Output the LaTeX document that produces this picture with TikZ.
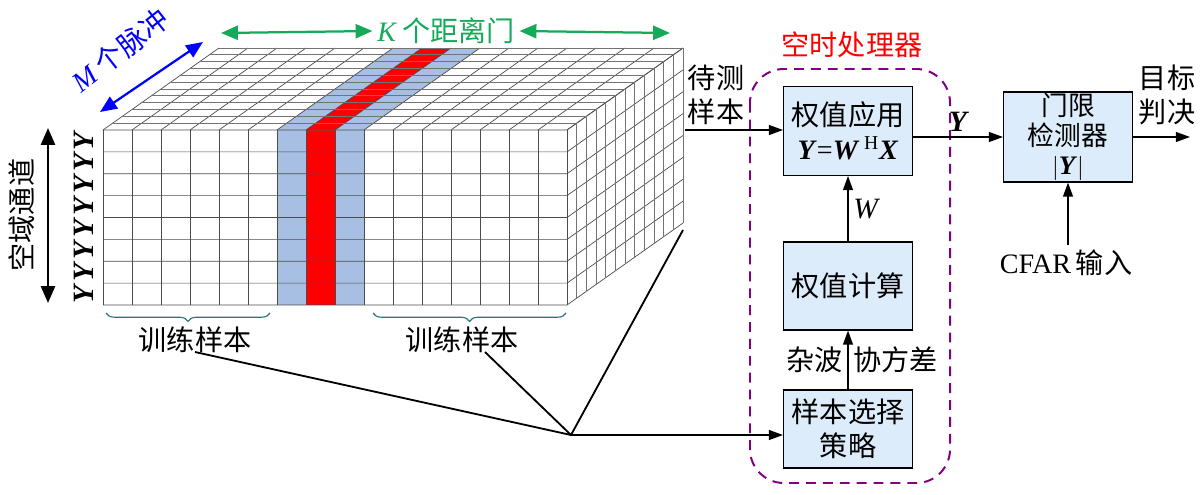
\documentclass[tikz,border=0pt]{standalone}
\usepackage{fontspec}
\setmainfont{Liberation Serif}
\newfontfamily\cjk{Noto Sans CJK SC}
\usetikzlibrary{arrows.meta,positioning,calc,decorations.pathreplacing}
\definecolor{cellblue}{RGB}{166,191,226}
\definecolor{boxblue}{RGB}{221,236,250}
\definecolor{kgreen}{RGB}{20,170,90}
\definecolor{bracecol}{RGB}{40,120,120}

\begin{document}
\begin{tikzpicture}[
    x=0.025cm, y=-0.025cm,
    font=\fontsize{20}{24}\selectfont,
    block/.style={rectangle, draw, thick, fill=boxblue, align=center, inner sep=0pt},
    arrow/.style={-{Triangle[length=10pt,width=7pt]}, line width=1.1pt},
    gridline/.style={draw=black!70, line width=0.5pt},
    dblarrow/.style={{Triangle[length=12pt,width=10pt]}-{Triangle[length=12pt,width=10pt]}, line width=1.6pt}
]
    \useasboundingbox (0,0) rectangle (1200,494);
    % cube: front face, top face, right face
    \fill[cellblue] (277,130) rectangle (306,305);
    \fill[red] (306,130) rectangle (335,305);
    \fill[cellblue] (335,130) rectangle (364,305);
    \fill[cellblue] (277,130) -- (364,130) -- ++(116,-82) -- ++(-87,0) -- cycle;
    \fill[red] (306,130) -- (335,130) -- ++(116,-82) -- ++(-29,0) -- cycle;
    \foreach \i in {0,...,16} {
        \draw[gridline] (103+29*\i,130) -- ++(0,175);
        \draw[gridline] (103+29*\i,130) -- ++(116,-82);
    }
    \foreach \k in {0,...,8}
        \draw[gridline] (103,130+21.875*\k) -- ++(464,0) -- ++(116,-82);
    \foreach \j in {1,...,12} {
        \draw[gridline, black!55] ($(103,130)+\j/12*(116,-82)$) -- ++(464,0) -- ++(0,175);
    }

    % annotations of the cube
    \node[kgreen] (klabel) at (446,31) {\textit{K}\,{\cjk 个距离门}};
    \draw[dblarrow, kgreen] (221,33) -- (klabel.west);
    \draw[dblarrow, kgreen] (klabel.east) -- (670,33);
    \draw[dblarrow, blue] (100,112) -- (203,42);
    \node[blue, rotate=38] (mlabel) at (120,50) {\textit{M}\,{\cjk 个脉冲}};
    \draw[dblarrow] (48,128) -- (48,303);
    \node[rotate=90] (space) at (22,215) {\cjk 空域通道};
    \foreach \k in {0,...,7}
        \node[rotate=90, font=\fontsize{21}{22}\selectfont\bfseries\itshape] (y\k) at (84,141+21.875*\k) {Y};
    \draw[decorate, decoration={brace, mirror, amplitude=6pt}, bracecol, thick] (106,313) -- (270,313);
    \draw[decorate, decoration={brace, mirror, amplitude=6pt}, bracecol, thick] (373,313) -- (566,313);
    \node (train1) at (195,340) {\cjk 训练样本};
    \node (train2) at (462,340) {\cjk 训练样本};

    % space-time processor
    \draw[violet, line width=1.4pt, dash pattern=on 7pt off 5pt, rounded corners=24pt] (750,69) rectangle (950,483);
    \node[red] (stap) at (852,45) {\cjk 空时处理器};
    \node[block, minimum width=3.22cm, minimum height=2.22cm] (apply) at (848,131)
        {{\cjk 权值应用}\\ \textbf{\textit{Y}}=\textbf{\textit{W}}\,\textsuperscript{H}\textbf{\textit{X}}};
    \node[block, minimum width=3.22cm, minimum height=2.2cm] (calc) at (848,286) {\cjk 权值计算};
    \node[block, minimum width=3.22cm, minimum height=1.95cm] (select) at (848,429) {\cjk 样本选择\\ \cjk 策略};
    \node[block, minimum width=3.22cm, minimum height=2.25cm, font=\fontsize{19}{21}\selectfont] (detect) at (1068,137)
        {{\cjk 门限}\\ {\cjk 检测器}\\ $|$\textbf{\textit{Y}}$|$};

    \coordinate (cubeout) at (685,130);
    \coordinate (hub) at (571,435);
    \coordinate (cubecorner) at (683,230);
    \coordinate (tr1) at (195,352);
    \coordinate (tr2) at (485,352);
    \coordinate (decide) at (1190,137);
    \node[align=center, inner sep=0pt] (tocheck) at (716,95) {\cjk 待测\\ \cjk 样本};
    \node[align=center, inner sep=0pt] (goal) at (1167,95) {\cjk 目标\\ \cjk 判决};
    \node (cfar) at (1066,263) {CFAR\,{\cjk 输入}};

    \draw[arrow] (cubeout) -- (cubeout -| apply.west);
    \draw[arrow] (apply.east |- detect) -- node[above, font=\fontsize{21}{22}\selectfont\bfseries\itshape] {Y} (detect.west);
    \draw[arrow] (detect.east) -- (decide);
    \draw[arrow] (cfar.north -| detect) -- (detect.south);
    \draw[arrow] (calc.north) -- node[right, font=\fontsize{21}{22}\selectfont\itshape] {W} (apply.south);
    \draw[arrow] (select.north) -- node[left] {\cjk 杂波} node[right] {\cjk 协方差} (calc.south);
    \draw[line width=1.3pt] (tr1) -- (hub);
    \draw[line width=1.3pt] (tr2) -- (hub);
    \draw[line width=1.3pt] (cubecorner) -- (hub);
    \draw[arrow] (hub) -- (hub -| select.west);
\end{tikzpicture}
\end{document}
